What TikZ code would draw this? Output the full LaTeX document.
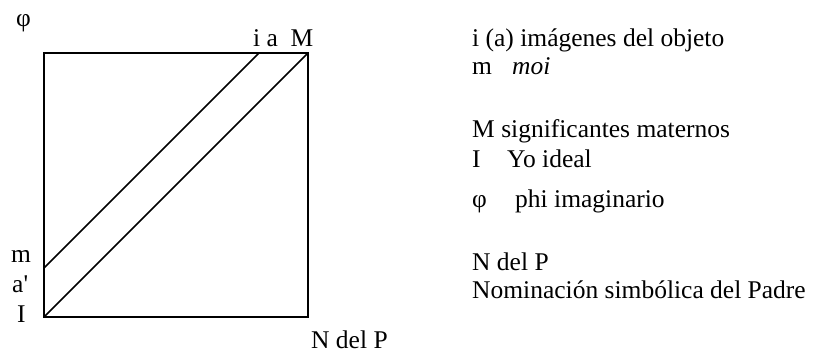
\documentclass[tikz,border=0pt]{standalone}
\usepackage{fontspec}
\setmainfont{Liberation Serif}[Ligatures=TeXOff]
\begin{document}
\begin{tikzpicture}[x=1pt,y=-1pt,
  lbl/.style={inner sep=0pt,anchor=base west,font=\fontsize{25.5}{30}\selectfont},
  ln/.style={line width=1.5pt,line cap=round,line join=miter}]
\useasboundingbox (0,0) rectangle (824,356);
% square
\coordinate (TL) at (44,53);
\coordinate (TR) at (308,53);
\coordinate (BR) at (308,317);
\coordinate (BL) at (44,317);
\coordinate (ia) at (259,53);
\coordinate (mm) at (44,268);
\draw[ln] (TL) -- (TR) -- (BR) -- (BL) -- cycle;
\draw[ln] (BL) -- (TR);
\draw[ln] (mm) -- (ia);
% left labels
\node[lbl] (phi) at (16,27) {φ};
\node[lbl] (iaM) at (253,46) {i a\ \ M};
\node[lbl] (m) at (11,262) {m};
\node[lbl] (ap) at (12,292) {a'};
\node[lbl] (I) at (17,322) {I};
\node[lbl] (NdP) at (311,348) {N del P};
% legend
\node[lbl] (l1) at (472,46) {i (a) imágenes del objeto};
\node[lbl] (l2a) at (472,74) {m};
\node[lbl] (l2b) at (512,74) {\itshape moi};
\node[lbl] (l3) at (472,137) {M significantes maternos};
\node[lbl] (l4a) at (472,167) {I};
\node[lbl] (l4b) at (507,167) {Yo ideal};
\node[lbl] (l5a) at (472,207) {φ};
\node[lbl] (l5b) at (515,207) {phi imaginario};
\node[lbl] (l6) at (472,270) {N del P};
\node[lbl] (l7) at (472,298) {Nominación simbólica del Padre};
\end{tikzpicture}
\end{document}
